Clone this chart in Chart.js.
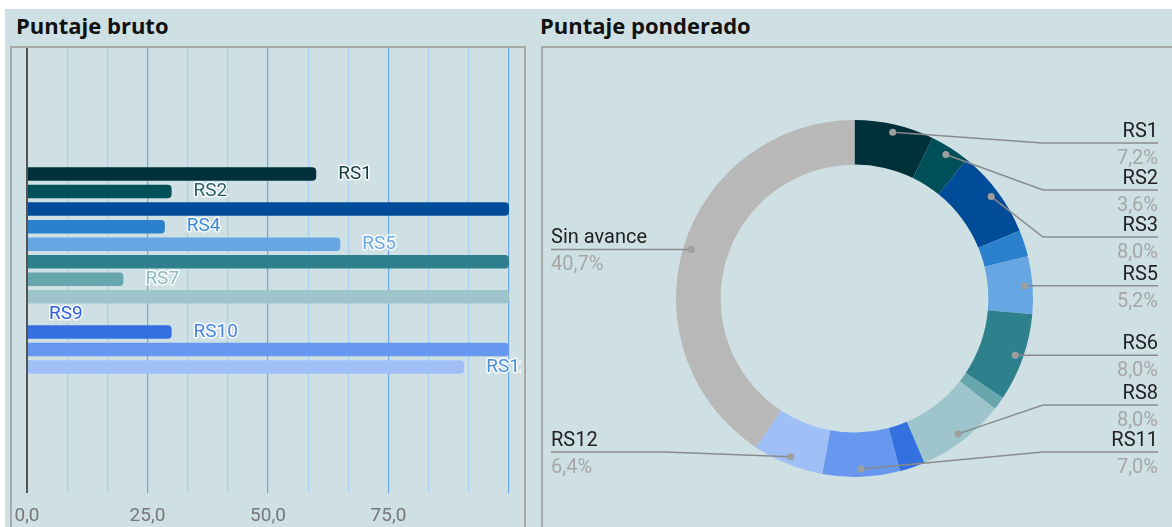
<!DOCTYPE html>
<html>
<head>
<meta charset="utf-8">
<script src="https://cdn.jsdelivr.net/npm/chart.js@4"></script>
<style>
  body { margin: 0; width: 1172px; height: 527px; overflow: hidden; background: #fff; position: relative; font-family: Roboto, sans-serif; }
  .bg { position: absolute; left: 5px; top: 9px; right: 0; bottom: 0; background: #cee0e4; }
  .title { position: absolute; top: 14px; font: 700 22px/22px "Open Sans", sans-serif; color: #111; white-space: nowrap; }
  .box { position: absolute; top: 46px; height: 520px; border: 2px solid #a9a9a9; box-sizing: border-box; }
  canvas { position: absolute; }
</style>
</head>
<body>
<div class="bg"></div>
<div class="title" style="left:16px">Puntaje bruto</div>
<div class="title" style="left:540px">Puntaje ponderado</div>
<div class="box" style="left:10px; width:516px"></div>
<div class="box" style="left:541px; width:700px"></div>
<canvas id="barChart" width="512" height="479" style="left:12px; top:48px"></canvas>
<canvas id="pieChart" width="629" height="479" style="left:543px; top:48px"></canvas>

<script>
// datos del puntaje bruto
const categories = ['RS1', 'RS2', 'RS3', 'RS4', 'RS5', 'RS6', 'RS7', 'RS8', 'RS9', 'RS10', 'RS11', 'RS12'];
const rawScores = [60, 30, 100, 28.6, 65, 100, 20, 100, 0, 30, 100, 90.7];
const barColors = ['#00303a', '#00505a', '#014c99', '#2b80cc', '#66a6e2', '#2e808c',
                   '#68a6ae', '#9dc5cb', '#2b5fd9', '#3570e0', '#6797ee', '#a0bff7'];
const labelColors = ['#143c43', '#2a6068', '#1a5ca8', '#3f8ad6', '#6aa8e4', '#2e808c',
                     '#8fbcc2', '#9dc5cb', '#2c5fd8', '#4a84e6', '#6797ee', '#4a8fd8'];
const xTicks = [0, 25, 50, 75];

// datos del puntaje ponderado (%)
const pieLabels = ['RS1', 'RS2', 'RS3', 'RS4', 'RS5', 'RS6', 'RS7', 'RS8', 'RS9', 'RS10', 'RS11', 'RS12', 'Sin avance'];
const weighted = [7.2, 3.6, 8.0, 2.4, 5.2, 8.0, 1.2, 8.0, 0, 2.3, 7.0, 6.4, 40.7];
const pieColors = barColors.concat(['#b8b8b8']);

const fmt = v => v.toFixed(1).replace('.', ',');

// etiquetas al final de cada barra
const barLabels = {
  id: 'barLabels',
  afterDatasetsDraw(chart) {
    const ctx = chart.ctx;
    ctx.save();
    ctx.beginPath();
    ctx.rect(0, 0, 509, chart.height);
    ctx.clip();
    ctx.font = '19px Roboto';
    ctx.textBaseline = 'middle';
    ctx.textAlign = 'left';
    ctx.lineJoin = 'round';
    chart.data.datasets.forEach((ds, i) => {
      const bar = chart.getDatasetMeta(i).data[0];
      const x = bar.x + 22, y = bar.y;
      ctx.strokeStyle = 'rgba(255,255,255,0.85)';
      ctx.lineWidth = 3;
      ctx.strokeText(ds.label, x, y);
      ctx.fillStyle = labelColors[i];
      ctx.fillText(ds.label, x, y);
    });
    ctx.restore();
  }
};

const barCtx = document.getElementById('barChart').getContext('2d');
new Chart(barCtx, {
  type: 'bar',
  data: {
    labels: [''],
    datasets: categories.map((c, i) => ({
      label: c,
      data: [rawScores[i]],
      backgroundColor: barColors[i],
      borderRadius: 4,
      borderSkipped: 'start',
      categoryPercentage: 0.473,
      barPercentage: 0.77,
    })),
  },
  options: {
    indexAxis: 'y',
    responsive: false,
    animation: false,
    layout: { padding: { left: 15, right: 15, top: 0, bottom: 0 } },
    plugins: { legend: { display: false }, tooltip: { enabled: false } },
    scales: {
      y: { display: false },
      x: {
        min: 0,
        max: 100,
        border: { display: false },
        afterBuildTicks(scale) {
          const t = [];
          for (let k = 0; k <= 12; k++) t.push({ value: k * 25 / 3 });
          scale.ticks = t;
        },
        afterFit(scale) {
          scale.height = 34;
          scale.paddingLeft = 0;
          scale.paddingRight = 0;
        },
        grid: {
          drawTicks: false,
          color: c => {
            const v = c.tick.value;
            if (v === 0) return '#555';
            return Math.abs(v % 25) < 0.01 || Math.abs(v % 25 - 25) < 0.01 ? '#6ea8df' : '#a9cff2';
          },
          lineWidth: c => (c.tick.value === 0 ? 2 : 1.2),
        },
        ticks: {
          padding: 12,
          autoSkip: false,
          maxRotation: 0,
          color: '#777',
          font: { family: 'Roboto', size: 19 },
          callback: v => {
            const hit = xTicks.find(t => Math.abs(t - v) < 0.01);
            return hit === undefined ? '' : fmt(hit);
          },
        },
      },
    },
  },
  plugins: [barLabels],
});

// etiquetas externas con líneas guía
const pieCallouts = {
  id: 'pieCallouts',
  afterDraw(chart) {
    const ctx = chart.ctx;
    const meta = chart.getDatasetMeta(0);
    const total = weighted.reduce((a, b) => a + b, 0);
    const first = meta.data[0];
    const cx = first.x, cy = first.y, R = first.outerRadius;
    const gap = 47, minY = cy - 155.5, maxY = cy + 153.5;
    const sides = { left: [], right: [] };
    meta.data.forEach((arc, i) => {
      const pct = weighted[i] / total * 100;
      if (pct < 3) return;
      const mid = (arc.startAngle + arc.endAngle) / 2;
      const dx = cx + Math.cos(mid) * (R - 8);
      const dy = cy + Math.sin(mid) * (R - 8);
      const side = Math.cos(mid) >= 0 ? 'right' : 'left';
      sides[side].push({ i, pct, dx, dy, y: Math.min(maxY, Math.max(minY, dy)) });
    });
    Object.keys(sides).forEach(side => {
      const list = sides[side].sort((a, b) => a.dy - b.dy);
      for (let k = 1; k < list.length; k++) list[k].y = Math.max(list[k].y, list[k - 1].y + gap);
      for (let k = list.length - 1; k >= 0; k--) {
        list[k].y = Math.min(list[k].y, k === list.length - 1 ? maxY : list[k + 1].y - gap);
      }
      list.forEach(p => {
        const right = side === 'right';
        const elbow = right ? cx + R + 10 : cx - R - 11;
        const edge = right ? 615 : 8;
        ctx.save();
        ctx.strokeStyle = '#8a8a8a';
        ctx.lineWidth = 1.5;
        ctx.beginPath();
        ctx.moveTo(p.dx, p.dy);
        ctx.lineTo(elbow, p.y);
        ctx.lineTo(edge, p.y);
        ctx.stroke();
        ctx.fillStyle = '#9e9e9e';
        ctx.beginPath();
        ctx.arc(p.dx, p.dy, 3.5, 0, Math.PI * 2);
        ctx.fill();
        ctx.textAlign = right ? 'right' : 'left';
        ctx.textBaseline = 'alphabetic';
        ctx.font = '20px Roboto';
        ctx.fillStyle = '#212121';
        ctx.fillText(pieLabels[p.i], edge, p.y - 6);
        ctx.fillStyle = '#a6a6a6';
        ctx.fillText(fmt(p.pct) + '%', edge, p.y + 21);
        ctx.restore();
      });
    });
  }
};

const pieCtx = document.getElementById('pieChart').getContext('2d');
new Chart(pieCtx, {
  type: 'doughnut',
  data: {
    labels: pieLabels,
    datasets: [{
      data: weighted,
      backgroundColor: pieColors,
      borderWidth: 0,
      hoverOffset: 0,
    }],
  },
  options: {
    responsive: false,
    animation: false,
    cutout: '75%',
    layout: { padding: { left: 133, right: 139, top: 72, bottom: 50 } },
    plugins: { legend: { display: false }, tooltip: { enabled: false } },
  },
  plugins: [pieCallouts],
});
</script>
</body>
</html>
